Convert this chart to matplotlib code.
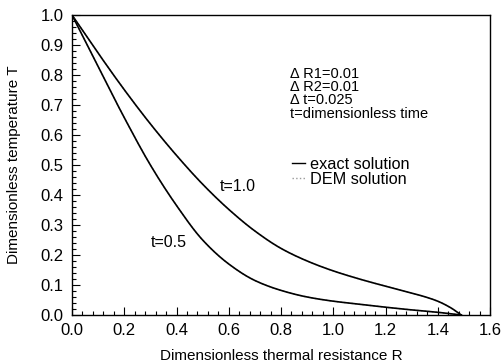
import numpy as np
import matplotlib
matplotlib.use("Agg")
import matplotlib.pyplot as plt
from matplotlib.ticker import MultipleLocator, AutoMinorLocator, FormatStrFormatter
from matplotlib.lines import Line2D

plt.rcParams['font.family'] = ['Liberation Sans', 'DejaVu Sans']

# Data
R_t10 = [0.0, 0.1, 0.2, 0.3, 0.4, 0.5, 0.6, 0.7, 0.8, 0.9, 1.0, 1.1, 1.2, 1.3, 1.35, 1.4, 1.45, 1.49]
T_t10 = [1.0, 0.873, 0.751, 0.637, 0.532, 0.436, 0.352, 0.280, 0.222, 0.180, 0.147, 0.120, 0.096, 0.073, 0.061, 0.046, 0.024, 0.0]

R_t05 = [0.0, 0.1, 0.2, 0.3, 0.4, 0.5, 0.6, 0.7, 0.8, 0.9, 1.0, 1.1, 1.2, 1.3, 1.4, 1.49]
T_t05 = [1.0, 0.828, 0.658, 0.500, 0.365, 0.250, 0.170, 0.115, 0.082, 0.060, 0.046, 0.036, 0.026, 0.017, 0.009, 0.0]

notes = ["\u0394 R1=0.01", "\u0394 R2=0.01", "\u0394 t=0.025", "t=dimensionless time"]
curve_labels = ["t=1.0", "t=0.5"]
legend_labels = ["exact solution", "DEM solution"]


def pchip(x, y, n=400):
    """Monotone cubic curve through the given points (for smooth drawing)."""
    x = np.asarray(x, float); y = np.asarray(y, float)
    h = np.diff(x); d = np.diff(y) / h
    m = np.zeros_like(y)
    for k in range(1, len(x) - 1):
        if d[k - 1] * d[k] > 0:
            w1 = 2 * h[k] + h[k - 1]; w2 = h[k] + 2 * h[k - 1]
            m[k] = (w1 + w2) / (w1 / d[k - 1] + w2 / d[k])
    m[0] = d[0]; m[-1] = d[-1]
    xs = np.linspace(x[0], x[-1], n)
    idx = np.clip(np.searchsorted(x, xs) - 1, 0, len(h) - 1)
    t = (xs - x[idx]) / h[idx]
    h00 = 2 * t**3 - 3 * t**2 + 1; h10 = t**3 - 2 * t**2 + t
    h01 = -2 * t**3 + 3 * t**2; h11 = t**3 - t**2
    ys = h00 * y[idx] + h10 * h[idx] * m[idx] + h01 * y[idx + 1] + h11 * h[idx] * m[idx + 1]
    return xs, ys


fig = plt.figure(figsize=(5.01, 3.64), dpi=100)
ax = fig.add_axes([72/501, 1-315/364, (490-72)/501, 300/364])

for R, T in [(R_t10, T_t10), (R_t05, T_t05)]:
    xs, ys = pchip(R, T)
    ax.plot(xs, ys, color='#999999', lw=1.0, ls=':')
    ax.plot(xs, ys, color='black', lw=1.2)

ax.set_xlim(0, 1.6)
ax.set_ylim(0, 1.0)
ax.xaxis.set_major_locator(MultipleLocator(0.2))
ax.yaxis.set_major_locator(MultipleLocator(0.1))
ax.xaxis.set_minor_locator(AutoMinorLocator(5))
ax.yaxis.set_minor_locator(AutoMinorLocator(5))
ax.xaxis.set_major_formatter(FormatStrFormatter('%.1f'))
ax.yaxis.set_major_formatter(FormatStrFormatter('%.1f'))
ax.tick_params(which='both', direction='in', top=False, right=False, labelsize=12, width=0.8)
ax.tick_params(which='major', length=6, pad=6)
ax.tick_params(which='minor', length=3)
for s in ax.spines.values():
    s.set_linewidth(1.0)

ax.set_xlabel("Dimensionless thermal resistance R", fontsize=11, labelpad=8)
ax.set_ylabel("Dimensionless temperature T", fontsize=11, labelpad=14)

ys_notes = [0.805, 0.760, 0.717, 0.670]
for txt, yy in zip(notes, ys_notes):
    ax.text(0.5215, yy, txt, transform=ax.transAxes, fontsize=10.5, va='center', ha='left')

ax.text(0.635, 0.427, curve_labels[0], fontsize=11.5, ha='center', va='center')
ax.text(0.37, 0.243, curve_labels[1], fontsize=11.5, ha='center', va='center')

handles = [Line2D([], [], color='black', lw=1.0), Line2D([], [], color='#999999', lw=1.0, ls=':')]
ax.legend(handles, legend_labels, loc='upper left', bbox_to_anchor=(0.527, 0.528), frameon=False,
          fontsize=11.7, handlelength=0.8, handletextpad=0.3, labelspacing=0.0, borderpad=0, borderaxespad=0)

fig.savefig("out.png", dpi=100)
